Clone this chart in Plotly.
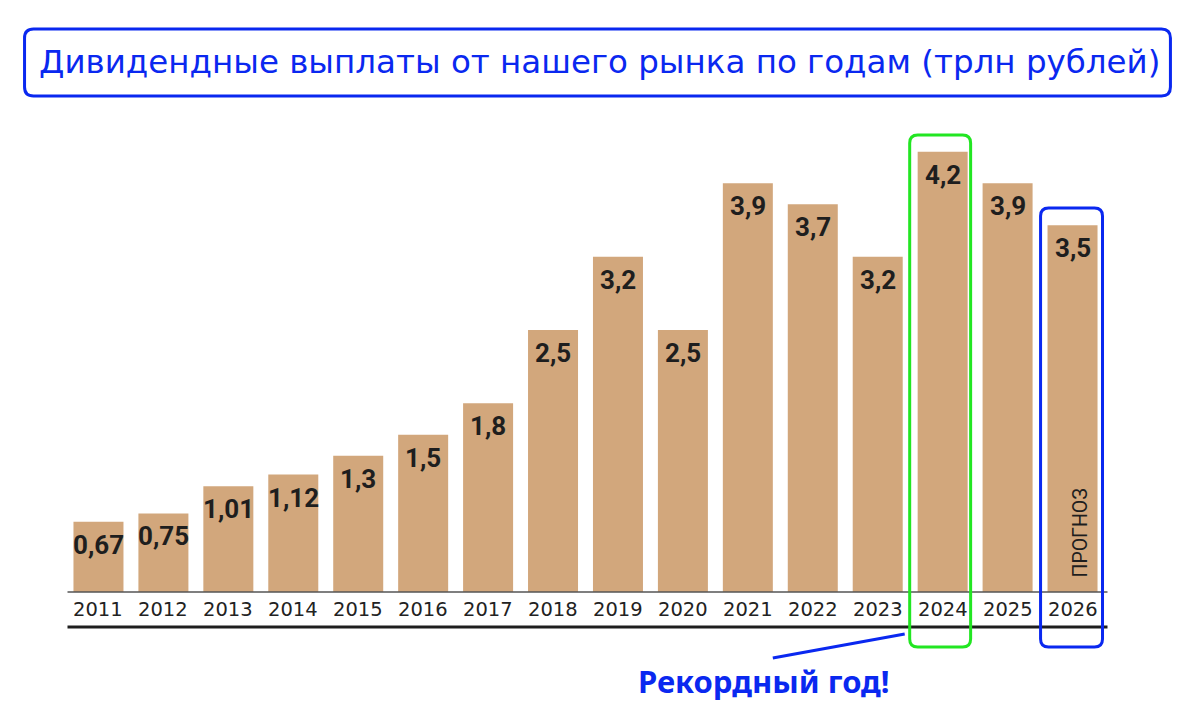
import plotly.graph_objects as go

years = ["2011", "2012", "2013", "2014", "2015", "2016", "2017", "2018",
         "2019", "2020", "2021", "2022", "2023", "2024", "2025", "2026"]
values = [0.67, 0.75, 1.01, 1.12, 1.3, 1.5, 1.8, 2.5,
          3.2, 2.5, 3.9, 3.7, 3.2, 4.2, 3.9, 3.5]
title_text = "Дивидендные выплаты от нашего рынка по годам (трлн рублей)"
record_text = "Рекордный год!"
forecast_text = "ПРОГНОЗ"
forecast_year = "2026"

W, H = 1200, 723
L, R, T, B = 65.5, 94.5, 100, 131
PW = W - L - R
PH = H - T - B


def px(x):
    return (x - L) / PW


def py(y):
    return (H - B - y) / PH


def rrect(x0, y0, x1, y1, r):
    pts = [
        ("M", [(x0 + r, y0)]),
        ("L", [(x1 - r, y0)]),
        ("Q", [(x1, y0), (x1, y0 + r)]),
        ("L", [(x1, y1 - r)]),
        ("Q", [(x1, y1), (x1 - r, y1)]),
        ("L", [(x0 + r, y1)]),
        ("Q", [(x0, y1), (x0, y1 - r)]),
        ("L", [(x0, y0 + r)]),
        ("Q", [(x0, y0), (x0 + r, y0)]),
    ]
    s = ""
    for cmd, p in pts:
        s += cmd + " " + " ".join(f"{px(a):.5f},{py(b):.5f}" for a, b in p) + " "
    return s + "Z"


BAR = "#D2A77C"
BLUE = "#0A28F0"
GREEN = "#22E622"
DARK = "#1E1E1E"

fig = go.Figure()
fig.add_trace(go.Bar(x=years, y=values, marker=dict(color=BAR, line=dict(width=0)),
                     hoverinfo="skip"))

annotations = []
for i, (yr, v) in enumerate(zip(years, values)):
    annotations.append(dict(
        x=i, y=v, xref="x", yref="y", yshift=-23,
        text=str(v).replace(".", ","), showarrow=False,
        font=dict(family="Roboto", size=26, color=DARK, weight="bold"),
        yanchor="middle", xanchor="center"))
    annotations.append(dict(
        x=i, y=py(609), xref="x", yref="paper",
        text=yr, showarrow=False,
        font=dict(family="DejaVu Sans", size=19.5, color="#222222"),
        yanchor="middle", xanchor="center"))

annotations.append(dict(
    x=years.index(forecast_year), y=py(533), xref="x", yref="paper", xshift=7,
    text=forecast_text, showarrow=False, textangle=-90,
    font=dict(family="Roboto", size=19.5, color=DARK),
    yanchor="middle", xanchor="center"))

annotations.append(dict(
    x=px(600), y=py(62), xref="paper", yref="paper",
    text=title_text, showarrow=False,
    font=dict(family="DejaVu Sans", size=32.5, color=BLUE),
    yanchor="middle", xanchor="center"))

annotations.append(dict(
    x=px(764), y=py(681), xref="paper", yref="paper",
    text=record_text, showarrow=False,
    font=dict(family="Noto Sans", size=31, color=BLUE, weight="bold"),
    yanchor="middle", xanchor="center"))

shapes = [
    dict(type="line", xref="paper", yref="paper", x0=px(67), x1=px(1108),
         y0=py(592), y1=py(592), line=dict(color="#555555", width=1.5)),
    dict(type="line", xref="paper", yref="paper", x0=px(67), x1=px(1108),
         y0=py(627), y1=py(627), line=dict(color=DARK, width=3)),
    dict(type="path", xref="paper", yref="paper", path=rrect(24, 29, 1171, 96, 9),
         line=dict(color=BLUE, width=3)),
    dict(type="path", xref="paper", yref="paper", path=rrect(910, 135, 971, 647, 8),
         line=dict(color=GREEN, width=3)),
    dict(type="path", xref="paper", yref="paper", path=rrect(1041, 208, 1103, 647, 8),
         line=dict(color=BLUE, width=3)),
    dict(type="line", xref="paper", yref="paper", x0=px(773), y0=py(658),
         x1=px(905), y1=py(634), line=dict(color=BLUE, width=3)),
]

fig.update_layout(
    width=W, height=H,
    margin=dict(l=L, r=R, t=T, b=B, pad=0),
    paper_bgcolor="white", plot_bgcolor="white",
    bargap=0.23, showlegend=False,
    xaxis=dict(type="category", range=[-0.5, 15.5], showticklabels=False,
               showgrid=False, zeroline=False, showline=False, ticks=""),
    yaxis=dict(range=[0, (H - B - T) / 104.8], visible=False, showgrid=False,
               zeroline=False),
    annotations=annotations, shapes=shapes,
)

fig.write_html("out.html")
